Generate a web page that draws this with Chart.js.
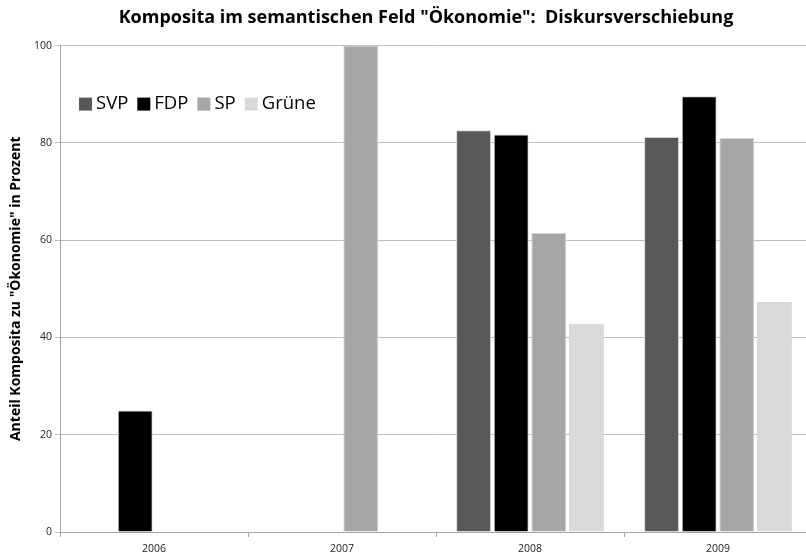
<!DOCTYPE html>
<html>
<head>
<meta charset="utf-8">
<script src="https://cdn.jsdelivr.net/npm/chart.js@4"></script>
<style>
  body { margin: 0; background: #fff; overflow: hidden; }
</style>
</head>
<body>
<!-- plot runs a few pixels past the right edge, as in the original -->
<canvas id="myChart" width="812" height="559"></canvas>
<script>
const years = ['2006', '2007', '2008', '2009']
const svp = [0, 0, 82.6, 81.2]
const fdp = [25, 0, 81.7, 89.6]
const sp = [0, 100, 61.5, 81.0]
const gruene = [0, 0, 42.8, 47.3]

Chart.defaults.font.family = '"Open Sans", sans-serif'
Chart.defaults.color = '#000'

// legend sits inside the plot, top left
const legendInside = {
  id: 'legendInside',
  afterDatasetsDraw(chart) {
    const ctx = chart.ctx
    const area = chart.chartArea
    let x = area.left + 19
    const y = area.top + 63
    ctx.save()
    ctx.font = '18.5px "Open Sans"'
    ctx.textBaseline = 'alphabetic'
    chart.data.datasets.forEach(ds => {
      ctx.fillStyle = ds.backgroundColor
      ctx.fillRect(x, y - 11, 13, 13)
      x += 17
      ctx.fillStyle = '#000'
      ctx.fillText(ds.label, x, y)
      x += ctx.measureText(ds.label).width + 9
    })
    ctx.restore()
  }
}

// title is centred a bit right of the canvas centre
const shiftTitle = {
  id: 'shiftTitle',
  afterLayout(chart) {
    chart.titleBlock.left = 40
  }
}

const ctx = document.getElementById('myChart')
var a = new Chart(ctx, {
  type: 'bar',
  data: {
    labels: years,
    datasets: [
      { label: 'SVP', data: svp, backgroundColor: '#595959' },
      { label: 'FDP', data: fdp, backgroundColor: '#000000' },
      { label: 'SP', data: sp, backgroundColor: '#a6a6a6' },
      { label: 'Grüne', data: gruene, backgroundColor: '#d9d9d9' }
    ]
  },
  options: {
    responsive: false,
    animation: false,
    layout: { padding: 0 },
    datasets: {
      bar: {
        barPercentage: 0.93,
        categoryPercentage: 0.8,
        borderWidth: 1,
        borderColor: '#d4d4d4'
      }
    },
    plugins: {
      legend: { display: false },
      tooltip: { enabled: false },
      title: {
        display: true,
        text: 'Komposita im semantischen Feld "Ökonomie":  Diskursverschiebung',
        font: { size: 18, weight: 'bold' },
        color: '#000',
        padding: { top: 7, bottom: 17 }
      }
    },
    scales: {
      x: {
        grid: { display: true, drawOnChartArea: false, drawTicks: true, tickLength: 5, color: '#a6a6a6' },
        border: { color: '#a6a6a6' },
        ticks: { font: { size: 10.5 }, color: '#222', padding: 6 },
        afterFit: s => { s.height = 27 }
      },
      y: {
        min: 0,
        max: 100,
        ticks: { stepSize: 20, font: { size: 10.5 }, color: '#222', padding: 3 },
        grid: { color: '#bfbfbf', tickLength: 5 },
        border: { color: '#a6a6a6' },
        title: {
          display: true,
          text: 'Anteil Komposita zu "Ökonomie" in Prozent',
          font: { size: 14, weight: 'bold' },
          color: '#000',
          padding: { top: 8, bottom: 0 }
        },
        afterFit: s => { s.width = 60 }
      }
    }
  },
  plugins: [legendInside, shiftTitle]
})
</script>
</body>
</html>
